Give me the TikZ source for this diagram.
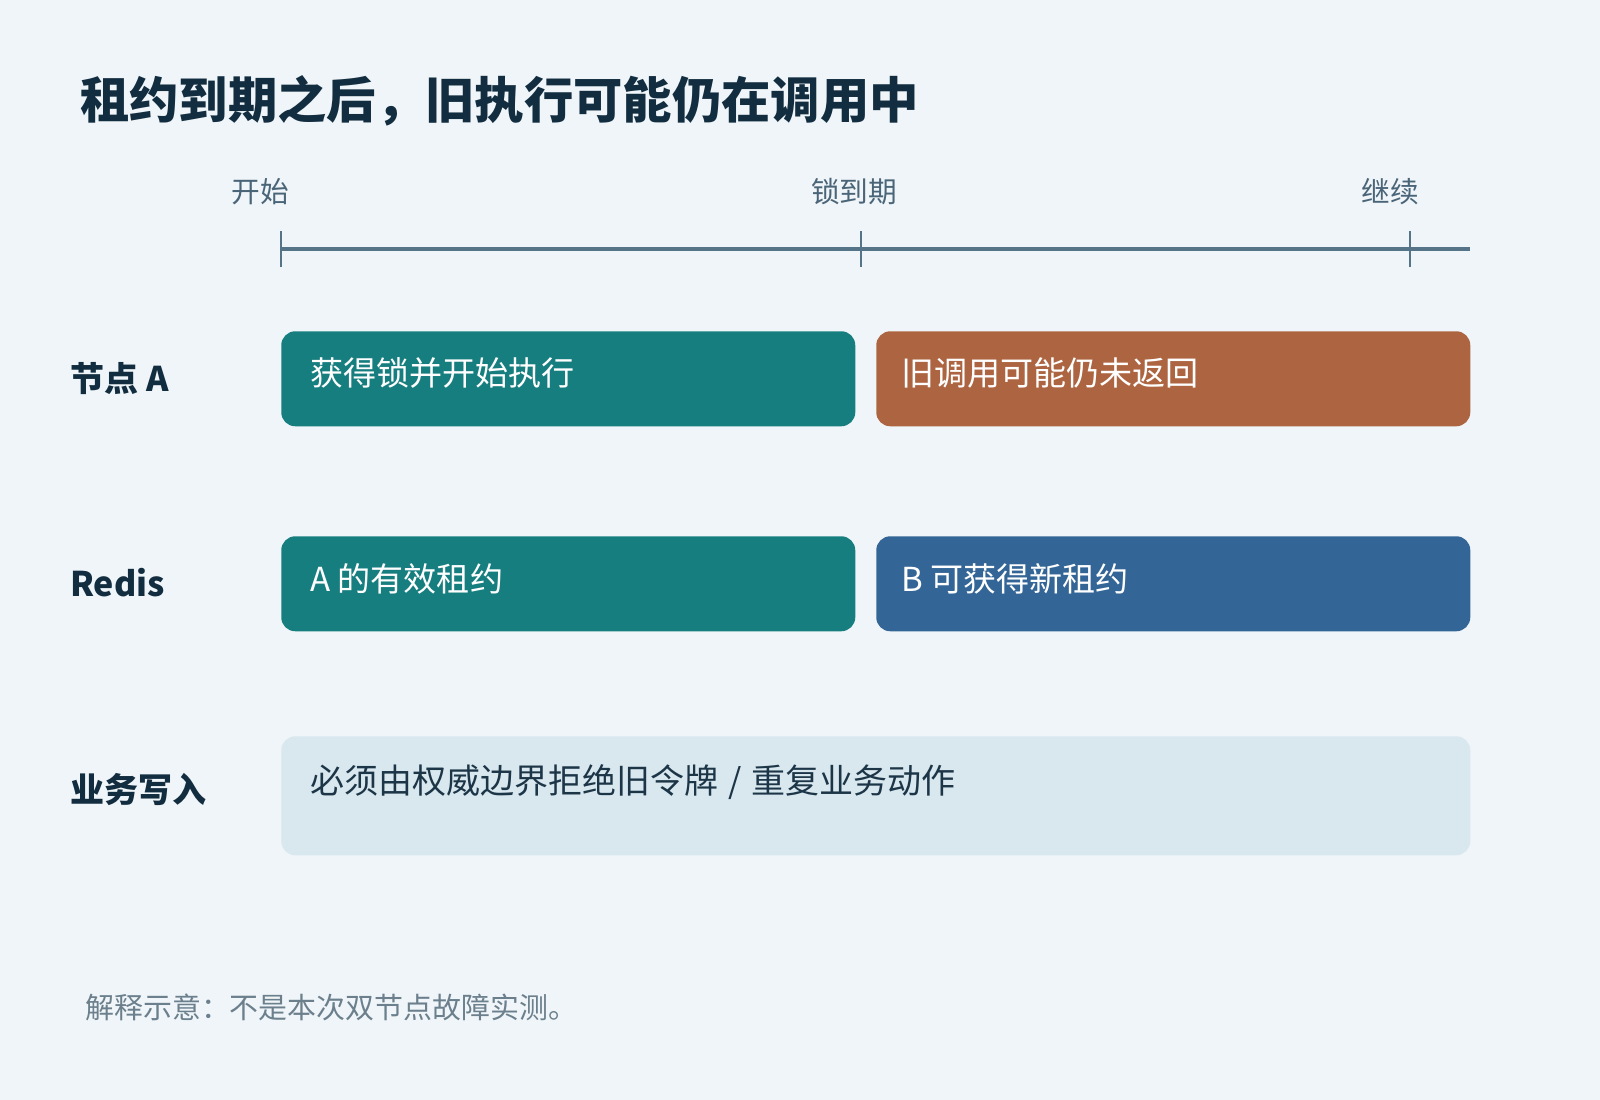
\documentclass[tikz,border=0pt]{standalone}
\usepackage{fontspec}
\setmainfont{Noto Sans CJK SC}
\begin{document}
\begin{tikzpicture}[x=0.75pt,y=-0.75pt,
  bar/.style={draw=none,rounded corners=10.5pt,inner sep=0pt,anchor=north west},
  boxtext/.style={anchor=west,inner sep=0pt,text=white,font=\fontsize{24.8}{28}\selectfont},
  rowlabel/.style={anchor=west,inner sep=0pt,text=titlec,font=\fontsize{25.5}{29}\selectfont\bfseries},
  ticklabel/.style={anchor=center,inner sep=0pt,text=labelc,font=\fontsize{21.5}{26}\selectfont},
  axis/.style={draw=axisc,line width=3.4pt},
  tick/.style={draw=axisc,line width=2pt}]
\definecolor{bgc}{HTML}{EFF5F8}
\definecolor{titlec}{HTML}{132D40}
\definecolor{axisc}{HTML}{557488}
\definecolor{labelc}{HTML}{4A6478}
\definecolor{tealc}{HTML}{177E80}
\definecolor{orangec}{HTML}{AD6541}
\definecolor{bluec}{HTML}{336596}
\definecolor{lightc}{HTML}{D9E8EF}
\definecolor{darktext}{HTML}{1C3547}
\definecolor{footc}{HTML}{6B7F8C}
\useasboundingbox (0,0) rectangle (1600,1100);
\fill[bgc] (0,0) rectangle (1600,1100);
% title
\node[anchor=west,inner sep=0pt,text=titlec,font=\fontsize{37}{44}\selectfont\bfseries] (title) at (80,101) {租约到期之后，旧执行可能仍在调用中};
% timeline
\coordinate (t0) at (281,249);
\coordinate (t1) at (861,249);
\coordinate (t2) at (1410,249);
\coordinate (tend) at (1470,249);
\draw[axis] (t0) -- (tend);
\draw[tick] ([yshift=-13.5]t0) -- ([yshift=13.5]t0);
\draw[tick] ([yshift=-13.5]t1) -- ([yshift=13.5]t1);
\draw[tick] ([yshift=-13.5]t2) -- ([yshift=13.5]t2);
\node[ticklabel] (l0) at (260,192) {开始};
\node[ticklabel] (l1) at (854,192) {锁到期};
\node[ticklabel] (l2) at (1390,192) {继续};
% row labels
\node[rowlabel] (ra) at (70,379) {节点 A};
\node[rowlabel] (rr) at (70,583) {Redis};
\node[rowlabel] (rw) at (70,790) {业务写入};
% boxes row 1
\node[bar,fill=tealc,minimum width=430.5pt,minimum height=71.25pt] (b1) at (281,331) {};
\node[bar,fill=orangec,minimum width=445.5pt,minimum height=71.25pt] (b2) at (876,331) {};
\node[boxtext] (t1a) at (310,373) {获得锁并开始执行};
\node[boxtext] (t1b) at (901,373) {旧调用可能仍未返回};
% boxes row 2
\node[bar,fill=tealc,minimum width=430.5pt,minimum height=71.25pt] (b3) at (281,536) {};
\node[bar,fill=bluec,minimum width=445.5pt,minimum height=71.25pt] (b4) at (876,536) {};
\node[boxtext] (t2a) at (310,579) {A 的有效租约};
\node[boxtext] (t2b) at (901,579) {B 可获得新租约};
% row 3
\node[bar,fill=lightc,minimum width=891.75pt,minimum height=89.25pt] (b5) at (281,736) {};
\node[boxtext,text=darktext,font=\fontsize{25.5}{29}\selectfont] (t3) at (310,782) {必须由权威边界拒绝旧令牌\hspace{0.3em}/\hspace{0.3em}重复业务动作};
% footnote
\node[anchor=west,inner sep=0pt,text=footc,font=\fontsize{21.7}{26}\selectfont] (foot) at (85,1007) {解释示意：不是本次双节点故障实测。};
\end{tikzpicture}
\end{document}
